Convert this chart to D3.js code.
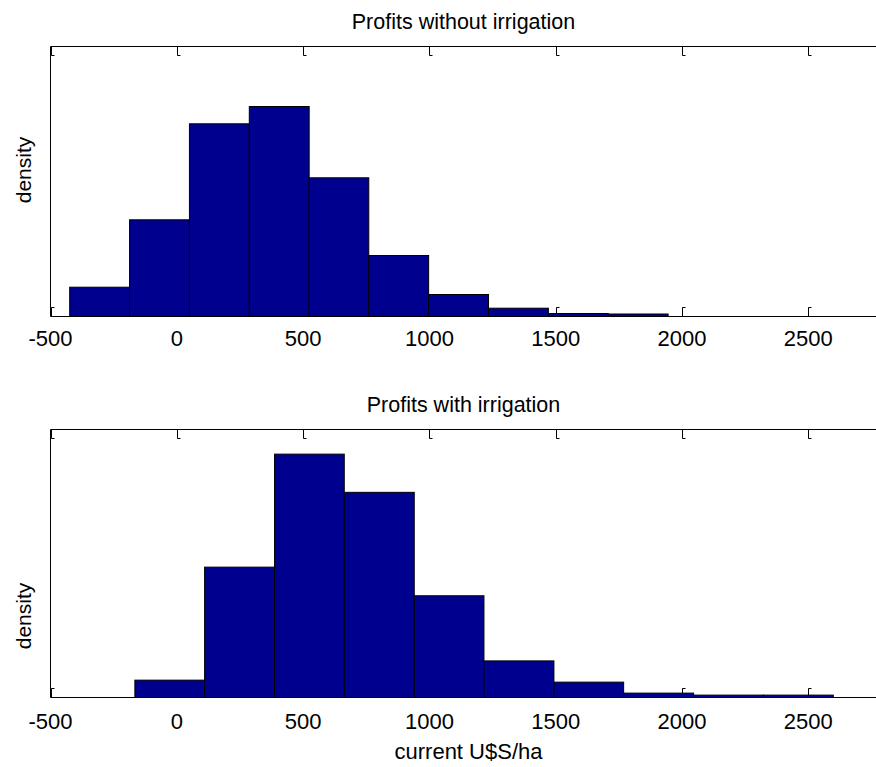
<!DOCTYPE html>
<html>
<head>
<meta charset="utf-8">
<script src="https://cdn.jsdelivr.net/npm/d3@7"></script>
<style>
  html, body { margin: 0; padding: 0; background: #fff; }
  svg { display: block; }
  text { font-family: "Liberation Sans", Arial, sans-serif; fill: #000; }
</style>
</head>
<body>
<svg id="chart" width="876" height="767"></svg>
<script>
// ---- data ----
const xTicks = [-500, 0, 500, 1000, 1500, 2000, 2500];
const titles = ["Profits without irrigation", "Profits with irrigation"];
const yLabel = "density";
const xLabel = "current U$S/ha";

// histogram bin edges (10 bins each)
const edgesNoIrr = [-424, -187, 50, 287, 524, 760, 997, 1234, 1471, 1708, 1945];
const countsNoIrr = [293, 967, 1927, 2100, 1387, 610, 220, 83, 30, 25];

const edgesIrr = [-166, 110, 387, 663, 940, 1216, 1493, 1769, 2046, 2322, 2599];
const countsIrr = [174, 1307, 2440, 2057, 1020, 367, 154, 44, 24, 24];

// ---- layout ----
const svg = d3.select("#chart");
const left = 50.5, right = 876.5;
const x = d3.scaleLinear().domain([-500, 2770]).range([left, right]);

const panels = [
  { title: titles[0], edges: edgesNoIrr, counts: countsNoIrr, top: 46.5, bottom: 316.5, ymax: 2700, xlab: false, ylabY: 170, tickDy: 29 },
  { title: titles[1], edges: edgesIrr, counts: countsIrr, top: 429.5, bottom: 697.5, ymax: 2687, xlab: true, ylabY: 616, tickDy: 31 }
];

const barColor = "#00008F";
const tickLen = 9, footLen = 3;

panels.forEach(p => {
  const g = svg.append("g");
  const y = d3.scaleLinear().domain([0, p.ymax]).range([p.bottom, p.top]);

  // ticks (drawn below bars)
  const tg = g.append("g").attr("stroke", "#000").attr("stroke-width", 1).attr("fill", "none");
  xTicks.forEach(t => {
    const tx = Math.round(x(t)) + 0.5;
    tg.append("path").attr("d", `M${tx},${p.top}V${p.top + tickLen}H${tx + footLen}`);
    tg.append("path").attr("d", `M${tx},${p.bottom}V${p.bottom - tickLen}H${tx + footLen}`);
  });

  // bars
  const bins = p.counts.map((c, i) => ({ x0: p.edges[i], x1: p.edges[i + 1], c }));
  g.append("g").selectAll("rect").data(bins).join("rect")
    .attr("x", d => x(d.x0))
    .attr("width", d => x(d.x1) - x(d.x0))
    .attr("y", d => y(d.c))
    .attr("height", d => y(0) - y(d.c))
    .attr("fill", barColor)
    .attr("stroke", "#000")
    .attr("stroke-width", 1);

  // axes box
  g.append("path")
    .attr("d", `M${right},${p.top}H${left}V${p.bottom}H${right}`)
    .attr("fill", "none").attr("stroke", "#000").attr("stroke-width", 1);

  // tick labels
  g.append("g").selectAll("text").data(xTicks).join("text")
    .attr("x", d => x(d))
    .attr("y", p.bottom + p.tickDy)
    .attr("text-anchor", "middle")
    .attr("font-size", 22)
    .text(d => d);

  // title
  g.append("text")
    .attr("x", (left + right) / 2)
    .attr("y", p.top - 18)
    .attr("text-anchor", "middle")
    .attr("font-size", 21.5)
    .text(p.title);

  // y label
  g.append("text")
    .attr("transform", `translate(31,${p.ylabY}) rotate(-90)`)
    .attr("text-anchor", "middle")
    .attr("font-size", 21)
    .text(yLabel);

  if (p.xlab) {
    g.append("text")
      .attr("x", (left + right) / 2 + 5)
      .attr("y", p.bottom + 61)
      .attr("text-anchor", "middle")
      .attr("font-size", 22)
      .text(xLabel);
  }
});
</script>
</body>
</html>
